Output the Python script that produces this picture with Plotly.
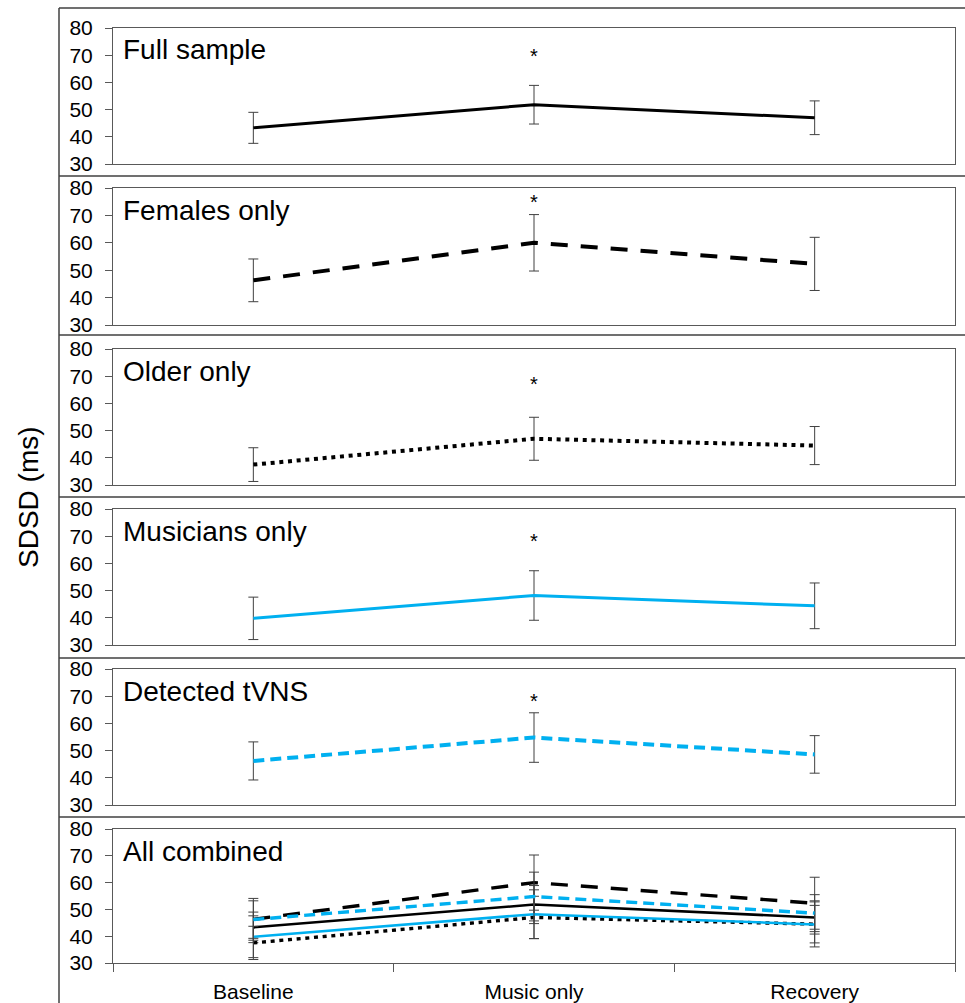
import plotly.graph_objects as go

# ---------------- data ----------------
categories = ["Baseline", "Music only", "Recovery"]
panel_names = ["Full sample", "Females only", "Older only", "Musicians only", "Detected tVNS"]

full_sample = [43.3, 51.8, 47.0]
full_err = [5.7, 7.1, 6.2]
females = [46.3, 60.0, 52.3]
females_err = [7.8, 10.3, 9.7]
older = [37.5, 47.0, 44.5]
older_err = [6.2, 7.9, 7.0]
musicians = [39.8, 48.2, 44.4]
musicians_err = [7.8, 9.1, 8.4]
detected = [46.2, 54.8, 48.6]
detected_err = [7.0, 9.1, 6.9]

sig_y = [71.0, 76.5, 68.5, 69.7, 69.7]   # asterisk heights (Music only)
y_ticks = [30, 40, 50, 60, 70, 80]

# ---------------- styling / layout ----------------
W, H = 965, 1003
BLUE = "#00B0F0"
series = [
    (full_sample, full_err, dict(color="black", width=3, dash="solid")),
    (females, females_err, dict(color="black", width=4, dash="17px,13px")),
    (older, older_err, dict(color="black", width=4, dash="4px,4.7px")),
    (musicians, musicians_err, dict(color=BLUE, width=3, dash="solid")),
    (detected, detected_err, dict(color=BLUE, width=4, dash="11px,6px")),
]

tops = [28, 188, 349, 509, 669, 829]
bots = [164, 325, 485, 645, 805, 963]
X0, X1 = 113, 955
AX = "#595959"
FONT = "Liberation Sans, Arial, sans-serif"

def py(p):
    return 1 - p / H

def px(p):
    return p / W

fig = go.Figure()

def add_series(k, vals, errs, line, width_scale=1.0):
    ln = dict(line)
    ln["width"] = line["width"] * width_scale
    fig.add_trace(go.Scatter(
        x=categories, y=vals, mode="lines", line=ln,
        error_y=dict(type="data", array=errs, visible=True, color="#404040",
                     thickness=1, width=5),
        xaxis="x" if k == 0 else f"x{k+1}",
        yaxis="y" if k == 0 else f"y{k+1}",
        showlegend=False, hoverinfo="skip",
    ))

for k, (vals, errs, line) in enumerate(series):
    add_series(k, vals, errs, line)
for vals, errs, line in series:
    add_series(5, vals, errs, line, width_scale=0.85)

layout = dict(
    width=W, height=H, autosize=False,
    margin=dict(l=0, r=0, t=0, b=0, pad=0, autoexpand=False),
    paper_bgcolor="white", plot_bgcolor="white",
    font=dict(family=FONT, color="black", size=21),
    showlegend=False,
)

annotations = []
for k in range(6):
    xs = "" if k == 0 else str(k + 1)
    layout[f"xaxis{xs}"] = dict(
        domain=[px(X0), px(X1)], anchor=f"y{xs}", type="category", automargin=False,
        range=[-0.5, 2.5], showline=True, linecolor=AX, linewidth=1, mirror=True,
        showgrid=False, zeroline=False,
        ticks="outside" if k == 5 else "", tickson="boundaries", ticklen=8,
        tickcolor=AX, showticklabels=(k == 5), ticklabelstandoff=10,
        tickfont=dict(size=21, color="black", family=FONT),
    )
    layout[f"yaxis{xs}"] = dict(
        domain=[py(bots[k]), py(tops[k])], anchor=f"x{xs}", automargin=False,
        range=[30, 80], tickvals=y_ticks, ticks="outside", ticklen=7,
        tickcolor=AX, showline=True, linecolor=AX, linewidth=1, mirror=True,
        showgrid=False, zeroline=False, ticklabelstandoff=8,
        tickfont=dict(size=21, color="black", family=FONT),
    )
    label = panel_names[k] if k < 5 else "All combined"
    annotations.append(dict(
        text=label, xref="paper", yref="paper", x=px(121), y=py(tops[k] + 22),
        xanchor="left", yanchor="middle", showarrow=False,
        font=dict(size=28, color="black", family=FONT),
    ))
    if k < 5:
        annotations.append(dict(
            text="*", xref=f"x{xs}", yref=f"y{xs}", x=categories[1], y=sig_y[k],
            xanchor="center", yanchor="middle", showarrow=False, yshift=-4,
            font=dict(size=20, color="black", family=FONT),
        ))

annotations.append(dict(
    text="SDSD (ms)", xref="paper", yref="paper", x=px(28), y=py(497),
    xanchor="center", yanchor="middle", textangle=-90, showarrow=False,
    font=dict(size=28, color="black", family=FONT),
))
layout["annotations"] = annotations

FR = "#404040"
shapes = [dict(type="line", xref="paper", yref="paper", x0=px(59), x1=px(59),
               y0=py(8), y1=0, line=dict(color=FR, width=1.5))]
for ysep in [8, 176, 335, 497, 658, 817]:
    shapes.append(dict(type="line", xref="paper", yref="paper", x0=px(59), x1=1,
                       y0=py(ysep), y1=py(ysep), line=dict(color=FR, width=1.5)))
layout["shapes"] = shapes

fig.update_layout(**layout)
fig.write_html("out.html", config={"displayModeBar": False},
               post_script="document.body.style.margin='0';document.body.style.overflow='hidden';")
